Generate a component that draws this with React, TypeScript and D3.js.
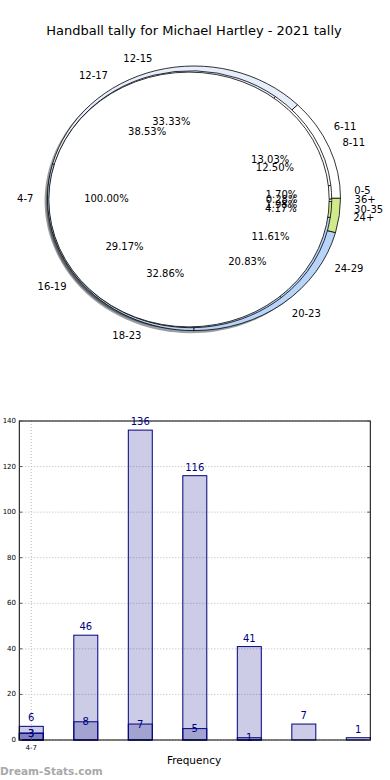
import React, { useRef, useEffect } from "react";
import * as d3 from "d3";

const title = "Handball tally for Michael Hartley - 2021 tally";

// 7 age groups (middle pie, big bars)
const ageLabels = ["0-5", "6-11", "12-17", "18-23", "24-29", "30-35", "36+"];
const ageCounts = [6, 46, 136, 116, 41, 7, 1];
const ageColors = ["#ffffff", "#ffffff", "#e6eefc", "#b8d4f8", "#b8d4f8", "#d2ea8c", "#ffffff"];

// 5 bands (outer pie, inner bars)
const bandLabels = ["8-11", "12-15", "16-19", "20-23", "24+"];
const bandCounts = [3, 8, 7, 5, 1];
const bandColors = ["#ffffff", "#e6eefc", "#b8d4f8", "#b8d4f8", "#d2ea8c"];

// single group
const soloLabels = ["4-7"];
const soloCounts = [3];
const soloColors = ["#ffffff"];

const yTicks = [0, 20, 40, 60, 80, 100, 120, 140];
const xTickLabels = ["4-7"];

const W = 390;
const H = 780;
const FONT = "DejaVu Sans, sans-serif";

const App = () => {
  const ref = useRef<SVGSVGElement>(null);

  useEffect(() => {
    const svg = d3.select(ref.current);
    svg.selectAll("*").remove();

    svg
      .append("text")
      .attr("x", 194)
      .attr("y", 30)
      .attr("text-anchor", "middle")
      .attr("dominant-baseline", "central")
      .style("font-family", FONT)
      .style("font-size", "13px")
      .text(title);

    // ---- pies ----
    const labelGeo = { cx: 194, cy: 198.3, rx: 146, ry: 132 };
    const layers = [
      { labels: bandLabels, counts: bandCounts, colors: bandColors, cx: 194, cy: 198.3, rx: 146.5, ry: 132.3 },
      { labels: ageLabels, counts: ageCounts, colors: ageColors, cx: 190.5, cy: 199.2, rx: 141.2, ry: 128.5 },
      { labels: soloLabels, counts: soloCounts, colors: soloColors, cx: 189, cy: 199.5, rx: 140.2, ry: 127.4 },
    ];

    const pie = d3
      .pie<number>()
      .sort(null)
      .value((d) => d)
      .startAngle(Math.PI / 2)
      .endAngle(Math.PI / 2 - 2 * Math.PI);
    const arc = d3.arc<d3.PieArcDatum<number>>().innerRadius(0).outerRadius(1);

    const shadowG = svg.append("g");
    const wedgeG = svg.append("g");

    layers.forEach((layer) => {
      const arcs = pie(layer.counts);
      shadowG
        .append("g")
        .attr("transform", `translate(${layer.cx - 2.9},${layer.cy + 2.6}) scale(${layer.rx},${layer.ry})`)
        .selectAll("path")
        .data(arcs)
        .join("path")
        .attr("d", arc)
        .attr("fill", (d, i) => {
          const c = d3.rgb(layer.colors[i]);
          return d3.rgb(c.r * 0.3, c.g * 0.3, c.b * 0.3).toString();
        })
        .attr("fill-opacity", 0.5);

      wedgeG
        .append("g")
        .attr("transform", `translate(${layer.cx},${layer.cy}) scale(${layer.rx},${layer.ry})`)
        .selectAll("path")
        .data(arcs)
        .join("path")
        .attr("d", arc)
        .attr("fill", (d, i) => layer.colors[i])
        .attr("stroke", "#000")
        .attr("stroke-width", 0.8)
        .attr("vector-effect", "non-scaling-stroke");
    });

    const textG = svg.append("g").style("font-family", FONT).style("font-size", "10px");
    layers.forEach((layer) => {
      const arcs = pie(layer.counts);
      const total = d3.sum(layer.counts);
      arcs.forEach((a, i) => {
        const m = (a.startAngle + a.endAngle) / 2;
        const sx = Math.sin(m);
        const cy = -Math.cos(m);
        textG
          .append("text")
          .attr("x", labelGeo.cx + 1.1 * labelGeo.rx * sx)
          .attr("y", labelGeo.cy + 1.1 * labelGeo.ry * cy)
          .attr("text-anchor", sx > 0 ? "start" : "end")
          .attr("dominant-baseline", "central")
          .text(layer.labels[i]);
        textG
          .append("text")
          .attr("x", labelGeo.cx + 0.6 * labelGeo.rx * sx)
          .attr("y", labelGeo.cy + 0.6 * labelGeo.ry * cy)
          .attr("text-anchor", "middle")
          .attr("dominant-baseline", "central")
          .text(((layer.counts[i] / total) * 100).toFixed(2) + "%");
      });
    });

    // ---- bars ----
    const left = 19.3;
    const right = 370.3;
    const top = 421;
    const bottom = 740;
    const barW = 0.44;
    const x = d3.scaleLinear().domain([-barW / 2, ageCounts.length - 1 + barW / 2]).range([left, right]);
    const y = d3.scaleLinear().domain([0, 140]).range([bottom, top]);
    const navy = "#000080";

    const bg = svg.append("g");

    bg.selectAll("line.grid")
      .data(yTicks)
      .join("line")
      .attr("x1", left)
      .attr("x2", right)
      .attr("y1", (d) => y(d))
      .attr("y2", (d) => y(d))
      .attr("stroke", "#b8b8b8")
      .attr("stroke-width", 1)
      .attr("stroke-dasharray", "1,2");

    bg.append("line")
      .attr("x1", x(0))
      .attr("x2", x(0))
      .attr("y1", top)
      .attr("y2", bottom)
      .attr("stroke", "#b8b8b8")
      .attr("stroke-width", 1)
      .attr("stroke-dasharray", "1,2");

    const seriesList = [ageCounts, bandCounts, soloCounts];
    seriesList.forEach((vals) => {
      bg.append("g")
        .selectAll("rect")
        .data(vals)
        .join("rect")
        .attr("x", (d, i) => x(i - barW / 2))
        .attr("width", x(barW) - x(0))
        .attr("y", (d) => y(d))
        .attr("height", (d) => y(0) - y(d))
        .attr("fill", navy)
        .attr("fill-opacity", 0.2)
        .attr("stroke", navy)
        .attr("stroke-width", 1);
    });

    bg.append("rect")
      .attr("x", left)
      .attr("y", top)
      .attr("width", right - left)
      .attr("height", bottom - top)
      .attr("fill", "none")
      .attr("stroke", "#000")
      .attr("stroke-width", 1);

    // value labels
    const lbl = bg.append("g").style("font-family", FONT).style("font-size", "10px").attr("fill", navy);
    ageCounts.forEach((v, i) => {
      lbl.append("text")
        .attr("x", x(i))
        .attr("y", y(v) - 8.5)
        .attr("text-anchor", "middle")
        .attr("dominant-baseline", "central")
        .text(v);
    });
    [bandCounts, soloCounts].forEach((vals) => {
      vals.forEach((v, i) => {
        lbl.append("text")
          .attr("x", x(i))
          .attr("y", y(v))
          .attr("text-anchor", "middle")
          .attr("dominant-baseline", "central")
          .text(v);
      });
    });

    // y axis
    const ax = bg.append("g").style("font-family", FONT).style("font-size", "7px");
    yTicks.forEach((t) => {
      ax.append("text")
        .attr("x", 16)
        .attr("y", y(t))
        .attr("text-anchor", "end")
        .attr("dominant-baseline", "central")
        .text(t);
      ax.append("line").attr("x1", left).attr("x2", left + 3).attr("y1", y(t)).attr("y2", y(t)).attr("stroke", "#555");
      ax.append("line").attr("x1", right - 3).attr("x2", right).attr("y1", y(t)).attr("y2", y(t)).attr("stroke", "#555");
    });
    xTickLabels.forEach((t, i) => {
      ax.append("text")
        .attr("x", x(i))
        .attr("y", 748)
        .attr("text-anchor", "middle")
        .attr("dominant-baseline", "central")
        .text(t);
      ax.append("line").attr("x1", x(i)).attr("x2", x(i)).attr("y1", bottom).attr("y2", bottom - 3).attr("stroke", "#555");
    });

    svg.append("text")
      .attr("x", 194)
      .attr("y", 760)
      .attr("text-anchor", "middle")
      .attr("dominant-baseline", "central")
      .style("font-family", FONT)
      .style("font-size", "10.5px")
      .text("Frequency");

    svg.append("text")
      .attr("x", 0)
      .attr("y", 775)
      .style("font-family", FONT)
      .style("font-size", "10.5px")
      .style("font-weight", "bold")
      .attr("fill", "#a8a8a8")
      .text("Dream-Stats.com");
  }, []);

  return (
    <div>
      <svg
        ref={ref}
        width={W}
        height={H}
        style={{ position: "absolute", left: 0, top: 0, background: "#fff" }}
      ></svg>
    </div>
  );
};

export default App;
